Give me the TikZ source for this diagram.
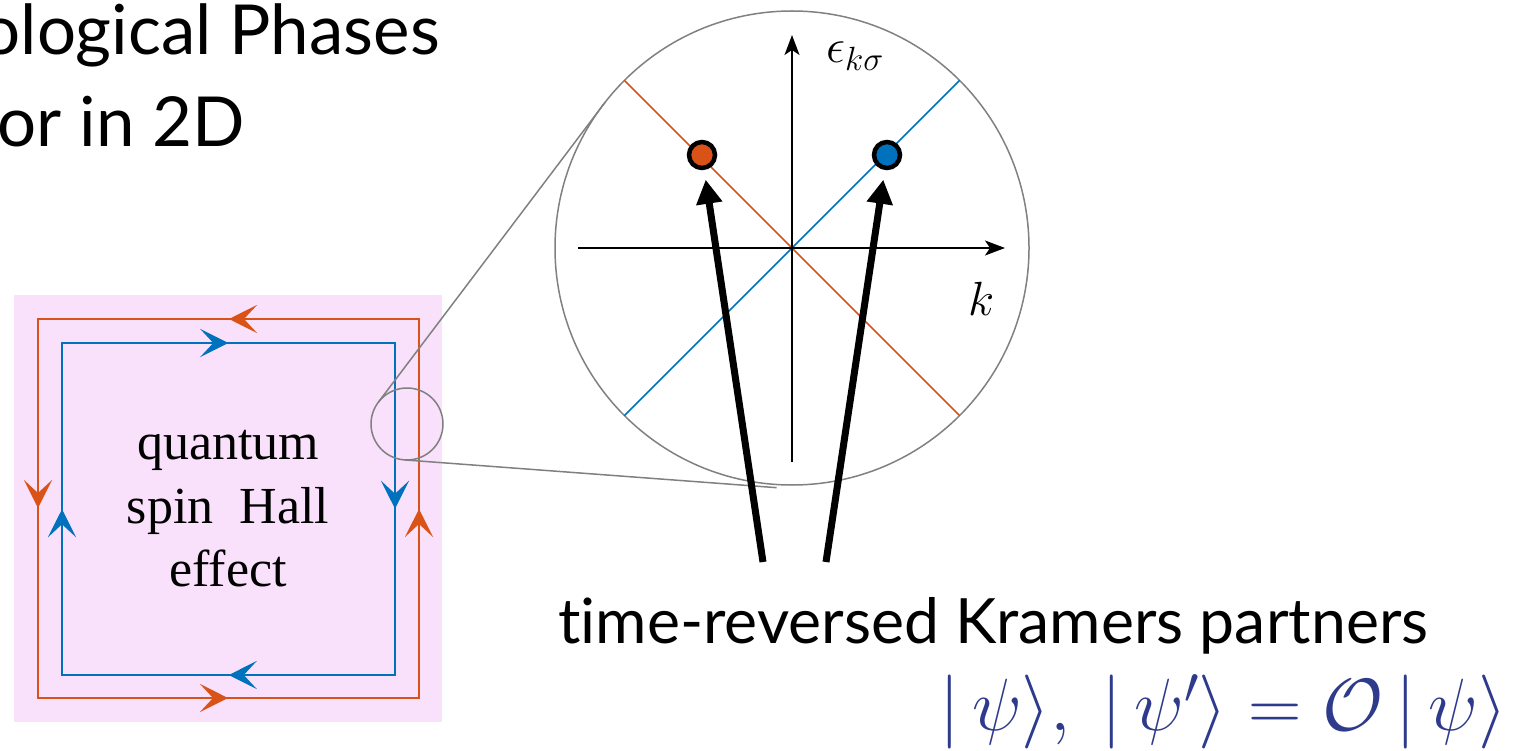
\RequirePackage{fix-cm}
\documentclass[tikz,border=0pt]{standalone}
\usepackage{fontspec}
\setmainfont{Liberation Serif}
\newfontfamily\slidefont[Ligatures=NoCommon]{Lato}
\usepackage{tikz}
\usetikzlibrary{arrows.meta, positioning, calc, decorations.markings}
\definecolor{edgeorange}{RGB}{217,83,25}
\definecolor{edgeblue}{RGB}{0,114,189}
\definecolor{qshpink}{RGB}{249,224,251}
\definecolor{lensgray}{RGB}{128,128,128}
\definecolor{ketblue}{RGB}{46,58,140}
\tikzset{
  flow/.style={line width=1.6pt, postaction={decorate}, decoration={markings,
      mark=at position 0.125 with {\arrow{Stealth[length=28pt, width=28pt, inset=13pt]}},
      mark=at position 0.375 with {\arrow{Stealth[length=28pt, width=28pt, inset=13pt]}},
      mark=at position 0.625 with {\arrow{Stealth[length=28pt, width=28pt, inset=13pt]}},
      mark=at position 0.875 with {\arrow{Stealth[length=28pt, width=28pt, inset=13pt]}}}},
  lens/.style={draw=lensgray, circle, line width=1.5pt, inner sep=0pt, outer sep=0pt},
  lensline/.style={draw=lensgray, line width=1.5pt},
  axis/.style={-{Stealth[length=20pt, width=15pt, inset=5pt]}, line width=1.5pt},
  band/.style={line width=1.5pt},
  ket/.style={draw=black, circle, line width=4.5pt, minimum size=26pt, inner sep=0pt, outer sep=0pt},
  kick/.style={-{Triangle[length=24pt, width=25pt]}, line width=7pt, shorten >=12pt}
}

\begin{document}
\begin{tikzpicture}[x=1pt, y=-1pt]
        \useasboundingbox (0,0) rectangle (1531,751);

        % Slide title (cut at the left)
        \node[anchor=base east, inner sep=0pt, font=\slidefont\fontsize{69}{83}\selectfont] (title1) at (440,55) {ological Phases};
        \node[anchor=base east, inner sep=0pt, font=\slidefont\fontsize{69}{83}\selectfont] (title2) at (245,147) {or in 2D};

        % Sample with helical edge states
        \fill[qshpink] (14,295) rectangle (442,722);
        \draw[flow, edgeorange] (419,319) -- (38,319) -- (38,698) -- (419,698) -- cycle;
        \draw[flow, edgeblue] (62,343) -- (395,343) -- (395,675) -- (62,675) -- cycle;
        \node[align=center, inner sep=0pt, font=\fontsize{52}{63.5}\selectfont] (qsh) at (228,509) {quantum\\spin\ \ Hall\\effect};

        % Magnifier
        \node[lens, minimum size=72pt] (spot) at (407,424) {};
        \node[lens, minimum size=474pt] (zoomc) at (792,248) {};
        \draw[lensline] (spot.142.9) -- (zoomc.142.9);
        \draw[lensline] (spot.-93.8) -- ($(zoomc.-93.8)+(-3,3)$);

        % Edge dispersion
        \draw[band, edgeorange] (zoomc.135) -- (zoomc.-45);
        \draw[band, edgeblue] (zoomc.-135) -- (zoomc.45);
        \coordinate (kmin) at (578,248);
        \coordinate (kmax) at (1005,248);
        \coordinate (emin) at (792,462);
        \coordinate (emax) at (792,35);
        \draw[axis] (kmin) -- (kmax);
        \draw[axis] (emin) -- (emax);
        \node[anchor=base west, inner sep=0pt, font=\fontsize{48}{58}\selectfont] (elabel) at (826,63) {$\epsilon_{k\sigma}$};
        \node[anchor=base west, inner sep=0pt, font=\fontsize{48}{58}\selectfont] (klabel) at (968,316) {$k$};

        % Kramers pair
        \node[ket, fill=edgeorange] (orangeket) at (702,155) {};
        \node[ket, fill=edgeblue] (blueket) at (887,155) {};
        \coordinate (lfoot) at (763,562);
        \coordinate (rfoot) at (826,562);
        \draw[kick] (lfoot) -- (orangeket);
        \draw[kick] (rfoot) -- (blueket);

        % Caption
        \node[anchor=base west, inner sep=0pt, font=\slidefont\fontsize{62.5}{75}\selectfont] (pairs) at (558,643) {time-reversed Kramers partners};
        \node[anchor=base east, inner sep=0pt, text=ketblue, font=\fontsize{74}{88}\selectfont] (kets) at (1507,730) {$|\,\psi\rangle,\ |\,\psi'\rangle = \mathcal{O}\,|\,\psi\rangle$};
    \end{tikzpicture}
\end{document}
